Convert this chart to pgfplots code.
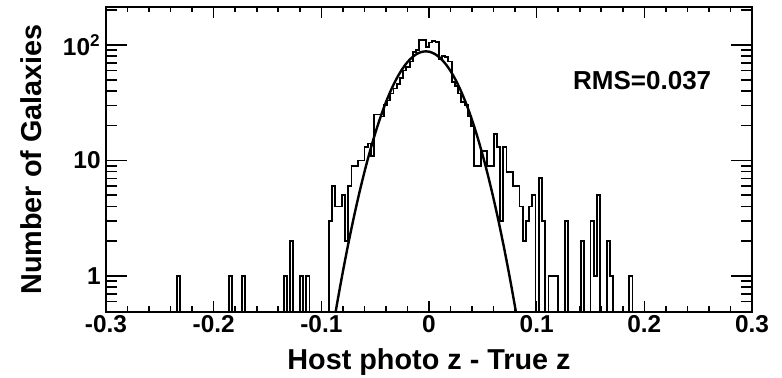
\documentclass[border=0pt]{standalone}
\usepackage{pgfplots}
\pgfplotsset{compat=1.18}
\usepackage{fontspec}
\setmainfont{Liberation Sans}

\pgfplotsset{myaxisbase/.style={
  at={(53pt,33pt)}, anchor=south west,
  width=323pt, height=152.5pt, scale only axis,
  xmin=-0.3, xmax=0.3, ymin=0.488, ymax=213,
  axis line style={line width=1.1pt, black},
  tick style={line width=0.8pt, black},
  tick align=inside,
  /pgf/number format/assume math mode=true,
  tick label style={font=\fontsize{12.2}{14}\selectfont\bfseries},
}}

\pgfplotstableread{
x y
-0.240 0.1
-0.234 1
-0.231 0.1
-0.186 1
-0.183 0.1
-0.174 1
-0.171 0.1
-0.135 1
-0.132 0.1
-0.129 2
-0.126 0.1
-0.120 1
-0.117 0.1
-0.114 1
-0.111 0.1
-0.093 3
-0.090 6
-0.087 4
-0.084 4
-0.081 5
-0.078 2
-0.075 6
-0.072 9
-0.069 9
-0.066 10
-0.063 10
-0.060 13
-0.057 14
-0.054 11
-0.051 25
-0.048 25
-0.045 24
-0.042 30
-0.039 33
-0.036 38
-0.033 42
-0.030 46
-0.027 52
-0.024 60
-0.021 64
-0.018 72
-0.015 87
-0.012 90
-0.009 110
-0.006 110
-0.003 96
0.000 105
0.003 108
0.006 106
0.009 76
0.012 80
0.015 79
0.018 72
0.021 48
0.024 44
0.027 38
0.030 32
0.033 30
0.036 24
0.039 20
0.042 9
0.045 9
0.048 12
0.051 12
0.054 9
0.057 9
0.060 17
0.063 13
0.066 3
0.069 13
0.072 8
0.075 8
0.078 6
0.081 6
0.084 4
0.087 2
0.090 3
0.093 4
0.096 5
0.099 0.1
0.102 7
0.105 3
0.108 0.1
0.111 1
0.114 1
0.117 1
0.120 0.1
0.126 3
0.129 0.1
0.141 2
0.144 0.1
0.150 3
0.153 1
0.156 5
0.159 0.1
0.165 2
0.168 1
0.171 0.1
0.186 1
0.189 0.1
0.195 0.1
}\histtable

\pgfplotstableread{
x y
-0.090 0.323
-0.085 0.604
-0.080 1.089
-0.075 1.891
-0.070 3.165
-0.065 5.104
-0.060 7.929
-0.055 11.87
-0.050 17.13
-0.045 23.82
-0.040 31.93
-0.035 41.22
-0.030 51.28
-0.025 61.49
-0.020 71.04
-0.015 79.09
-0.010 84.86
-0.005 87.74
0.000 87.42
0.005 83.93
0.010 77.64
0.015 69.22
0.020 59.47
0.025 49.24
0.030 39.28
0.035 30.19
0.040 22.37
0.045 15.97
0.050 10.99
0.055 7.281
0.060 4.652
0.065 2.864
0.070 1.698
0.075 0.971
0.080 0.535
0.085 0.284
}\fittable

\begin{document}
\begin{tikzpicture}
\useasboundingbox (0,0) rectangle (391pt,189pt);
\begin{axis}[ymode=log, myaxisbase,
  xtick={-0.3,-0.2,-0.1,0,0.1,0.2,0.3},
  xticklabels={-0.3,-0.2,-0.1,0,0.1,0.2,0.3},
  minor x tick num=4,
  ytick=\empty, yminorticks=false,
  major tick length=5.5pt, minor tick length=2.75pt,
  xtick pos=both,
  xticklabel style={inner sep=1.5pt},
  xlabel={Host photo z - True z},
  xlabel style={font=\fontsize{14.4}{16}\selectfont\bfseries, at={(axis description cs:0.5,-0.164)}, anchor=center},
]
\addplot[const plot, line width=0.9pt, black] table[x=x,y=y] {\histtable};
\addplot[smooth, line width=1.2pt, black] table[x=x,y=y] {\fittable};
\node[font=\fontsize{13}{15}\selectfont\bfseries] at (axis cs:0.198,48.8) {RMS=0.037};
\end{axis}
\begin{axis}[ymode=log, myaxisbase,
  xtick=\empty, xminorticks=false,
  ytick={1,10,100},
  yticklabels={1,10,10\textsuperscript{2}},
  minor ytick={0.6,0.7,0.8,0.9,2,3,4,5,6,7,8,9,20,30,40,50,60,70,80,90,200},
  major tick length=10.5pt, minor tick length=5.3pt,
  ytick pos=both,
  yticklabel style={inner sep=2.5pt},
  ylabel={Number of Galaxies},
  ylabel style={font=\fontsize{14.4}{16}\selectfont\bfseries, at={(axis description cs:-0.116,0.5)}, anchor=center},
]
\end{axis}
\end{tikzpicture}
\end{document}
